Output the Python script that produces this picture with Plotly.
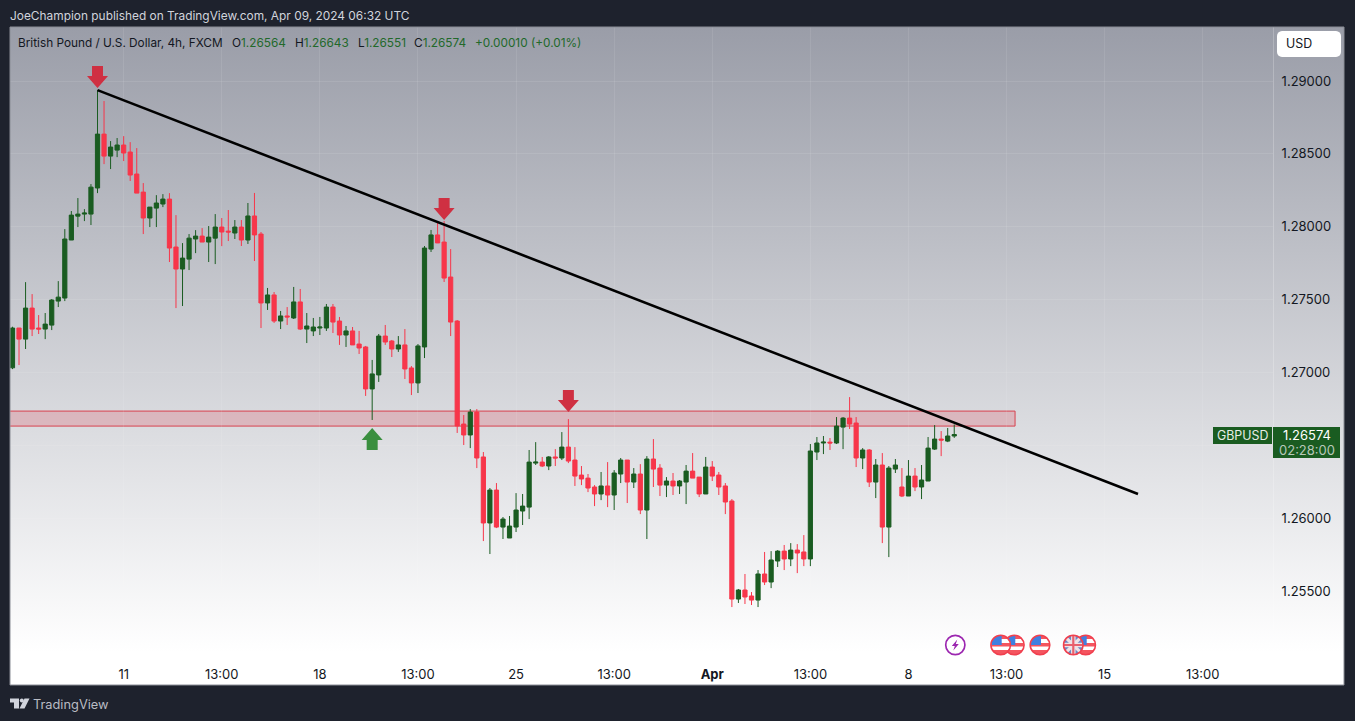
"""GBPUSD 4h candle chart with trendline and support zone, TradingView look."""
import math
from urllib.parse import quote

import plotly.graph_objects as go

W, H = 1355, 721

# Bars are counted from the first visible candle
opens = [
    1.27032, 1.27305, 1.27229, 1.27442, 1.27305, 1.27298, 1.27325, 1.27490, 1.27511, 1.27909,
    1.28073, 1.28087, 1.28087, 1.28266, 1.28636, 1.28485, 1.28526, 1.28561, 1.28513, 1.28362,
    1.28238, 1.28060, 1.28128, 1.28156, 1.28190, 1.27861, 1.27710, 1.27778, 1.27916, 1.27936,
    1.27895, 1.27922, 1.27998, 1.27970, 1.27957, 1.27998, 1.27909, 1.28074, 1.27950, 1.27477,
    1.27532, 1.27353, 1.27388, 1.27374, 1.27484, 1.27298, 1.27285, 1.27305, 1.27305, 1.27449,
    1.27353, 1.27257, 1.27285, 1.27195, 1.27175, 1.26887, 1.26983, 1.27250, 1.27216, 1.27161,
    1.27189, 1.27031, 1.26928, 1.27175, 1.27847, 1.27944, 1.27895, 1.27655, 1.27353, 1.26646,
    1.26571, 1.26728, 1.26420, 1.25967, 1.26193, 1.25939, 1.25864, 1.25939, 1.26049, 1.26076,
    1.26378, 1.26385, 1.26358, 1.26420, 1.26413, 1.26488, 1.26399, 1.26296, 1.26275, 1.26214,
    1.26166, 1.26221, 1.26159, 1.26303, 1.26399, 1.26248, 1.26303, 1.26056, 1.26406, 1.26344,
    1.26227, 1.26255, 1.26221, 1.26248, 1.26323, 1.26282, 1.26166, 1.26351, 1.26296, 1.26221,
    1.26118, 1.25445, 1.25507, 1.25466, 1.25438, 1.25617, 1.25562, 1.25706, 1.25774, 1.25720,
    1.25781, 1.25768, 1.25720, 1.26454, 1.26516, 1.26522, 1.26516, 1.26625, 1.26687, 1.26653,
    1.26413, 1.26468, 1.26248, 1.26365, 1.25939, 1.26337, 1.26214, 1.26152, 1.26289, 1.26214,
    1.26255, 1.26474, 1.26543, 1.26529, 1.26564,
]
highs = [
    1.27314, 1.27305, 1.27620, 1.27538, 1.27394, 1.27408, 1.27504, 1.27627, 1.27984, 1.28108,
    1.28197, 1.28121, 1.28293, 1.28938, 1.28863, 1.28588, 1.28609, 1.28622, 1.28581, 1.28540,
    1.28300, 1.28135, 1.28217, 1.28224, 1.28231, 1.28080, 1.27888, 1.27950, 1.27977, 1.27991,
    1.28005, 1.28087, 1.28060, 1.28115, 1.28046, 1.28046, 1.28163, 1.28232, 1.27964, 1.27580,
    1.27552, 1.27422, 1.27449, 1.27587, 1.27573, 1.27408, 1.27374, 1.27381, 1.27470, 1.27470,
    1.27381, 1.27319, 1.27312, 1.27285, 1.27182, 1.27086, 1.27264, 1.27326, 1.27223, 1.27250,
    1.27298, 1.27044, 1.27195, 1.27868, 1.27978, 1.28026, 1.28040, 1.27847, 1.27360, 1.26708,
    1.26749, 1.26749, 1.26454, 1.26207, 1.26241, 1.26008, 1.26015, 1.26172, 1.26166, 1.26468,
    1.26522, 1.26420, 1.26426, 1.26474, 1.26591, 1.26680, 1.26488, 1.26358, 1.26303, 1.26227,
    1.26317, 1.26385, 1.26330, 1.26413, 1.26399, 1.26344, 1.26371, 1.26426, 1.26543, 1.26371,
    1.26282, 1.26310, 1.26262, 1.26365, 1.26447, 1.26282, 1.26420, 1.26392, 1.26317, 1.26241,
    1.26131, 1.25514, 1.25617, 1.25493, 1.25644, 1.25768, 1.25774, 1.25781, 1.25816, 1.25829,
    1.25822, 1.25884, 1.26509, 1.26557, 1.26564, 1.26550, 1.26694, 1.26694, 1.26831, 1.26694,
    1.26481, 1.26474, 1.26406, 1.26447, 1.26358, 1.26406, 1.26344, 1.26399, 1.26344, 1.26365,
    1.26557, 1.26639, 1.26598, 1.26619, 1.26643,
]
lows = [
    1.27023, 1.27051, 1.27161, 1.27250, 1.27264, 1.27229, 1.27291, 1.27449, 1.27490, 1.27909,
    1.27998, 1.28039, 1.28012, 1.28231, 1.28430, 1.28396, 1.28478, 1.28451, 1.28314, 1.28231,
    1.27950, 1.27998, 1.27998, 1.28135, 1.27758, 1.27442, 1.27456, 1.27703, 1.27819, 1.27895,
    1.27758, 1.27744, 1.27867, 1.27902, 1.27916, 1.27868, 1.27882, 1.27765, 1.27305, 1.27429,
    1.27340, 1.27298, 1.27326, 1.27367, 1.27292, 1.27202, 1.27250, 1.27257, 1.27285, 1.27271,
    1.27189, 1.27175, 1.27189, 1.27127, 1.26839, 1.26674, 1.26935, 1.27189, 1.27106, 1.27141,
    1.26955, 1.26845, 1.26859, 1.27099, 1.27827, 1.27889, 1.27621, 1.27250, 1.26585, 1.26502,
    1.26481, 1.26344, 1.25843, 1.25754, 1.25932, 1.25857, 1.25864, 1.25905, 1.25953, 1.25994,
    1.26365, 1.26351, 1.26330, 1.26358, 1.26399, 1.26378, 1.26221, 1.26227, 1.26179, 1.26083,
    1.26124, 1.26076, 1.26056, 1.26241, 1.26104, 1.26207, 1.26028, 1.25857, 1.26214, 1.26152,
    1.26145, 1.26159, 1.26166, 1.26097, 1.26275, 1.26145, 1.26166, 1.26255, 1.26159, 1.26028,
    1.25390, 1.25418, 1.25411, 1.25404, 1.25390, 1.25541, 1.25520, 1.25665, 1.25644, 1.25671,
    1.25623, 1.25671, 1.25671, 1.26399, 1.26440, 1.26468, 1.26509, 1.26474, 1.26612, 1.26351,
    1.26337, 1.26214, 1.26138, 1.25829, 1.25733, 1.26310, 1.26145, 1.26152, 1.26186, 1.26131,
    1.26255, 1.26468, 1.26426, 1.26522, 1.26551,
]
closes = [
    1.27305, 1.27229, 1.27442, 1.27298, 1.27298, 1.27332, 1.27497, 1.27517, 1.27916, 1.28080,
    1.28087, 1.28094, 1.28272, 1.28636, 1.28485, 1.28547, 1.28561, 1.28506, 1.28355, 1.28231,
    1.28060, 1.28135, 1.28163, 1.28190, 1.27854, 1.27710, 1.27785, 1.27922, 1.27936, 1.27895,
    1.27929, 1.27998, 1.27964, 1.27964, 1.27998, 1.27909, 1.28074, 1.27944, 1.27477, 1.27532,
    1.27353, 1.27388, 1.27381, 1.27484, 1.27298, 1.27319, 1.27312, 1.27312, 1.27449, 1.27346,
    1.27257, 1.27285, 1.27189, 1.27168, 1.26887, 1.26990, 1.27250, 1.27209, 1.27161, 1.27189,
    1.27024, 1.26928, 1.27182, 1.27854, 1.27944, 1.27889, 1.27648, 1.27346, 1.26633, 1.26571,
    1.26728, 1.26413, 1.25967, 1.26193, 1.25939, 1.25994, 1.25946, 1.26056, 1.26083, 1.26385,
    1.26385, 1.26358, 1.26420, 1.26413, 1.26488, 1.26392, 1.26289, 1.26269, 1.26207, 1.26166,
    1.26221, 1.26159, 1.26310, 1.26399, 1.26248, 1.26303, 1.26056, 1.26406, 1.26337, 1.26227,
    1.26255, 1.26221, 1.26255, 1.26323, 1.26275, 1.26166, 1.26351, 1.26289, 1.26214, 1.26111,
    1.25445, 1.25507, 1.25459, 1.25438, 1.25617, 1.25562, 1.25713, 1.25774, 1.25720, 1.25781,
    1.25761, 1.25720, 1.26461, 1.26516, 1.26522, 1.26516, 1.26632, 1.26687, 1.26646, 1.26413,
    1.26468, 1.26248, 1.26365, 1.25939, 1.26344, 1.26365, 1.26152, 1.26289, 1.26214, 1.26262,
    1.26481, 1.26543, 1.26536, 1.26564, 1.26574,
]
bars = list(range(len(closes)))

x_tick_bars = [17, 32, 47, 62, 77, 92, 107, 122, 137, 152, 167, 182]
x_tick_labels = ["11", "13:00", "18", "13:00", "25", "13:00", "<b>Apr</b>", "13:00", "8", "13:00", "15", "13:00"]
price_ticks = [1.29, 1.285, 1.28, 1.275, 1.27, 1.265, 1.26, 1.255]
price_labels = ["1.29000", "1.28500", "1.28000", "1.27500", "1.27000", "", "1.26000", "1.25500"]

trend_bars = [13, 172.1]
trend_prices = [1.28938, 1.26166]
zone_bars = [-5, 153.3]
zone_prices = [1.26632, 1.26735]

sell_bars = [13, 66, 85]
sell_prices = [1.28952, 1.28046, 1.26728]
buy_bars = [55]
buy_prices = [1.26619]

GREEN = "#1a5c21"
RED = "#f7364a"
TEXT = "#131722"
FONT = "Inter, Roboto, sans-serif"
GRID = "rgba(255,255,255,0.09)"


def fx(px):
    return px / W


def fy(px):
    return 1 - px / H


def px_path(points):
    """Closed paper-coordinate SVG path from page pixel points."""
    return "M" + " L".join(f"{fx(x):.5f},{fy(y):.5f}" for x, y in points) + " Z"


def box(x0, y0, x1, y1, color):
    return dict(
        type="rect", xref="paper", yref="paper",
        x0=fx(x0), x1=fx(x1), y0=fy(y0), y1=fy(y1),
        fillcolor=color, line=dict(width=0), layer="above",
    )


def rounded(x0, y0, x1, y1, r):
    pts = []
    for cx, cy, a in ((x1 - r, y0 + r, -90), (x1 - r, y1 - r, 0), (x0 + r, y1 - r, 90), (x0 + r, y0 + r, 180)):
        for k in range(5):
            ang = math.radians(a + k * 22.5)
            pts.append((cx + r * math.cos(ang), cy + r * math.sin(ang)))
    return pts


def label(x, y, text, color=TEXT, size=11.8, anchor="left"):
    return dict(
        xref="paper", yref="paper", x=fx(x), y=fy(y), text=text, showarrow=False,
        xanchor=anchor, yanchor="middle", borderpad=0, borderwidth=0,
        font=dict(family=FONT, size=size, color=color),
    )


def arrow(bar, price, color, down=True):
    # pixel offsets from the tip; y grows upward on pixel-sized shapes
    s = 1 if down else -1
    pts = [(0, 0), (-10.5, s * 12), (-5.5, s * 12), (-5.5, s * 22), (5.5, s * 22), (5.5, s * 12), (10.5, s * 12)]
    return dict(
        type="path", xref="x", yref="y", xsizemode="pixel", ysizemode="pixel",
        xanchor=bar, yanchor=price,
        path="M" + " L".join(f"{a},{b}" for a, b in pts) + " Z",
        fillcolor=color, line=dict(width=0), layer="above",
    )


def svg_uri(body, w=22, h=22):
    svg = f'<svg xmlns="http://www.w3.org/2000/svg" width="{w}" height="{h}" viewBox="0 0 {w} {h}">{body}</svg>'
    return "data:image/svg+xml," + quote(svg)


GRADIENT = (
    '<defs><linearGradient id="g" x1="0" y1="0" x2="0" y2="1">'
    '<stop offset="0" stop-color="#9a9da8"/><stop offset="0.95" stop-color="#ffffff"/>'
    '<stop offset="1" stop-color="#ffffff"/></linearGradient></defs>'
    '<rect width="100" height="100" fill="url(#g)"/>'
)
US_FLAG = (
    '<defs><clipPath id="c"><circle cx="11" cy="11" r="9.6"/></clipPath></defs>'
    '<circle cx="11" cy="11" r="10" fill="#fff"/>'
    '<g clip-path="url(#c)"><rect x="0" y="2" width="22" height="3" fill="#f4555f"/>'
    '<rect x="0" y="9" width="22" height="3.5" fill="#f4555f"/>'
    '<rect x="0" y="16" width="22" height="4" fill="#f4555f"/>'
    '<rect x="2" y="2" width="10" height="9" fill="#3f7fe0"/></g>'
    '<circle cx="11" cy="11" r="9.8" fill="none" stroke="#f0404f" stroke-width="1.6"/>'
)
UK_FLAG = (
    '<defs><clipPath id="u"><circle cx="11" cy="11" r="9.6"/></clipPath></defs>'
    '<circle cx="11" cy="11" r="10" fill="#6d86c4"/>'
    '<g clip-path="url(#u)"><path d="M2 2 L20 20 M20 2 L2 20" stroke="#efe3e6" stroke-width="3.2"/>'
    '<path d="M11 0 V22 M0 11 H22" stroke="#efe3e6" stroke-width="4.5"/>'
    '<path d="M11 0 V22 M0 11 H22" stroke="#e8606c" stroke-width="2.2"/></g>'
    '<circle cx="11" cy="11" r="9.8" fill="none" stroke="#f0404f" stroke-width="1.6"/>'
)
BOLT = (
    '<circle cx="11" cy="11" r="9.6" fill="#fff" stroke="#9c27b0" stroke-width="1.7"/>'
    '<path d="M13 5.5 L7.5 12 H10.5 L9 16.5 L14.5 10 H11.5 Z" fill="#9c27b0"/>'
)


def icon(cx, cy, uri, size=22):
    return dict(
        source=uri, xref="paper", yref="paper", x=fx(cx - size / 2), y=fy(cy - size / 2),
        sizex=size / W, sizey=size / H, sizing="stretch", xanchor="left", yanchor="top", layer="above",
    )


fig = go.Figure()
fig.add_trace(
    go.Candlestick(
        x=bars, open=opens, high=highs, low=lows, close=closes,
        increasing=dict(line=dict(color=GREEN, width=1), fillcolor=GREEN),
        decreasing=dict(line=dict(color=RED, width=1), fillcolor=RED),
        whiskerwidth=0, hoverinfo="skip",
    )
)
fig.add_trace(
    go.Scatter(
        x=trend_bars, y=trend_prices, mode="lines",
        line=dict(color="#000000", width=2.6), hoverinfo="skip",
    )
)

shapes = [
    dict(
        type="rect", xref="x", yref="y", x0=zone_bars[0], x1=zone_bars[1],
        y0=zone_prices[0], y1=zone_prices[1], fillcolor="rgba(222,90,105,0.27)",
        line=dict(color="#d8424f", width=1), layer="below",
    ),
]
shapes += [arrow(b, p, "#cf3042") for b, p in zip(sell_bars, sell_prices)]
shapes += [arrow(b, p, "#3a8f3f", down=False) for b, p in zip(buy_bars, buy_prices)]
shapes += [
    dict(type="path", xref="paper", yref="paper", path=px_path(rounded(1277, 31, 1341, 57, 5)),
         fillcolor="#ffffff", line=dict(width=0), layer="above"),
    box(1213, 427, 1272, 444, GREEN),
    box(1273, 427, 1340, 458, GREEN),
    # chart frame
    dict(type="rect", xref="paper", yref="paper", x0=fx(10), x1=fx(1344), y0=fy(685), y1=fy(27),
         line=dict(color="#8a8d96", width=1), fillcolor="rgba(0,0,0,0)", layer="above"),
    # footer logo
    dict(type="path", xref="paper", yref="paper",
         path=px_path([(10, 698.5), (19, 698.5), (19, 708.5), (14, 708.5), (14, 702.5), (10, 702.5)]),
         fillcolor="#d1d4dc", line=dict(width=0)),
    dict(type="path", xref="paper", yref="paper",
         path=px_path([(24.5, 698.5), (29.5, 698.5), (24.5, 708.5), (19.5, 708.5)]),
         fillcolor="#d1d4dc", line=dict(width=0)),
    dict(type="circle", xref="paper", yref="paper", x0=fx(19.8), x1=fx(23.8), y0=fy(702.6), y1=fy(698.6),
         fillcolor="#d1d4dc", line=dict(width=0)),
]

annotations = [
    label(10, 15.5, "JoeChampion published on TradingView.com, Apr 09, 2024 06:32 UTC", color="#d1d4dc", size=11.9),
    label(18, 43, "British Pound / U.S. Dollar, 4h, FXCM"),
    label(232, 43, 'O<span style="color:#22692a">1.26564</span>'),
    label(295, 43, 'H<span style="color:#22692a">1.26643</span>'),
    label(358, 43, 'L<span style="color:#22692a">1.26551</span>'),
    label(414, 43, 'C<span style="color:#22692a">1.26574</span>'),
    label(475, 43, "+0.00010 (+0.01%)", color="#22692a"),
    label(1286, 44, "USD", size=12.4),
    label(1242.5, 435.5, "GBPUSD", color="#e6ece6", size=12.4, anchor="center"),
    label(1306.5, 435.5, "1.26574", color="#ffffff", size=13, anchor="center"),
    label(1306.5, 450, "02:28:00", color="#b7c8b9", size=13, anchor="center"),
    label(33, 704, "TradingView", color="#b9bcc4", size=12.8),
]

images = [
    dict(
        source=svg_uri(GRADIENT, 100, 100), xref="paper", yref="paper", x=fx(10), y=fy(27),
        sizex=1334 / W, sizey=658 / H, sizing="stretch", xanchor="left", yanchor="top", layer="below",
    ),
    icon(955.3, 645, svg_uri(BOLT)),
    icon(1014.3, 645, svg_uri(US_FLAG)),
    icon(1000.7, 645, svg_uri(US_FLAG)),
    icon(1040, 645, svg_uri(US_FLAG)),
    icon(1085.7, 645, svg_uri(US_FLAG)),
    icon(1073.3, 645, svg_uri(UK_FLAG)),
]

fig.update_layout(
    width=W, height=H, margin=dict(l=0, r=0, t=0, b=0),
    paper_bgcolor="#1e222d", plot_bgcolor="rgba(0,0,0,0)",
    showlegend=False, boxgap=0.2, boxgroupgap=0.2,
    shapes=shapes, annotations=annotations, images=images,
    xaxis=dict(
        domain=[fx(10), fx(1273)], range=[-0.38, 192.74], rangeslider=dict(visible=False),
        tickmode="array", tickvals=x_tick_bars, ticktext=x_tick_labels,
        tickfont=dict(family=FONT, size=13, color=TEXT), ticks="", ticklabelstandoff=10,
        showgrid=True, gridcolor=GRID, gridwidth=1, zeroline=False, showline=False,
    ),
    yaxis=dict(
        domain=[fy(655), fy(27)], range=[1.25061, 1.29371], side="right",
        tickmode="array", tickvals=price_ticks, ticktext=price_labels,
        tickfont=dict(family=FONT, size=13, color=TEXT), ticks="", ticklabelstandoff=5,
        showgrid=True, gridcolor=GRID, gridwidth=1, zeroline=False,
        showline=True, linecolor="rgba(255,255,255,0.22)", linewidth=1,
    ),
)

fig.write_html(
    "out.html",
    config={"displayModeBar": False},
    post_script="document.body.style.margin='0';document.body.style.overflow='hidden';",
)
